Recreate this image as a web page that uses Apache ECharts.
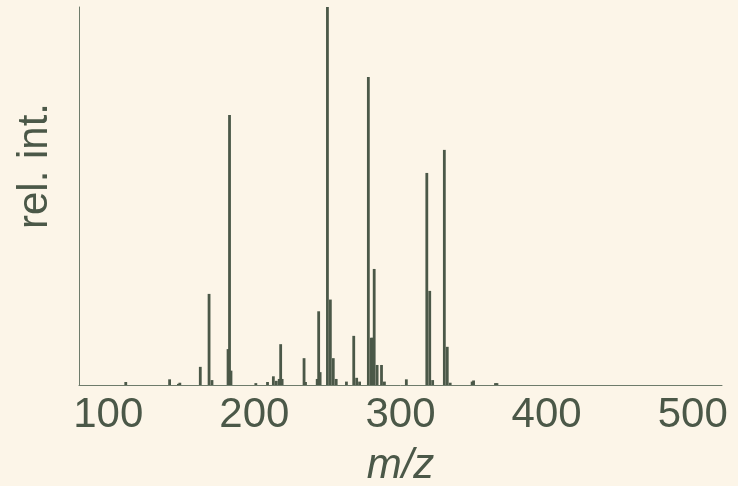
<!DOCTYPE html>
<html>
<head>
<meta charset="utf-8">
<script src="https://cdn.jsdelivr.net/npm/echarts@6.0.0/dist/echarts.min.js"></script>
<style>
  html, body { margin: 0; padding: 0; background: #fcf5e8; }
  #main { width: 738px; height: 486px; }
</style>
</head>
<body>
<div id="main"></div>
<script type="text/javascript">
// peak positions (m/z) and relative intensity (%)
var mz = [112, 142, 148, 149, 163, 169, 171, 182, 183, 184,
          201, 209, 213, 215, 217, 218, 219, 234, 235, 243,
          244, 245, 250, 252, 254, 256, 263, 268, 270, 272,
          278, 280, 281, 282, 284, 287, 289, 304, 318, 320,
          322, 330, 332, 334, 349, 350, 365, 366];
var relInt = [0.8, 1.5, 0.3, 0.6, 4.8, 24.1, 1.3, 9.5, 71.4, 3.8,
              0.5, 0.8, 2.3, 1.1, 1.6, 10.8, 1.6, 7.1, 0.8, 1.6,
              19.5, 3.4, 100, 22.6, 7.1, 1.6, 0.9, 13.0, 1.9, 0.9,
              81.5, 12.5, 12.5, 30.7, 5.3, 5.3, 0.9, 1.5, 56.1, 24.9,
              1.3, 62.2, 10.1, 0.6, 0.9, 1.2, 0.5, 0.5];
var xTicks = [100, 200, 300, 400, 500];

var ink = '#4b5848';
var peaks = [];
for (var i = 0; i < mz.length; i++) {
    peaks.push([mz[i], relInt[i]]);
}

var myChart = echarts.init(document.getElementById('main'));
myChart.setOption({
    backgroundColor: '#fcf5e8',
    animation: false,
    grid: {
        left: 79,
        right: 16,
        top: 7,
        bottom: 101,
        containLabel: false,
        outerBoundsMode: 'none'
    },
    xAxis: {
        type: 'value',
        min: 80,
        max: 520,
        name: 'm/z',
        nameLocation: 'middle',
        nameGap: 60,
        nameTextStyle: {
            color: ink,
            fontFamily: 'Liberation Sans',
            fontStyle: 'italic',
            fontSize: 42
        },
        axisLine: { show: true, onZero: false, lineStyle: { color: '#6e7b6b', width: 1 } },
        axisTick: { show: false },
        splitLine: { show: false },
        axisLabel: {
            customValues: xTicks,
            color: ink,
            fontFamily: 'Liberation Sans',
            fontSize: 42,
            margin: 9
        }
    },
    yAxis: {
        type: 'value',
        min: 0,
        max: 100,
        axisLine: { show: true, lineStyle: { color: '#6e7b6b', width: 1 } },
        axisTick: { show: false },
        axisLabel: { show: false },
        splitLine: { show: false }
    },
    graphic: [{
        type: 'text',
        x: 35,
        y: 166,
        rotation: Math.PI / 2,
        style: {
            text: 'rel. int.',
            fill: ink,
            font: '42px "Liberation Sans"',
            align: 'center',
            verticalAlign: 'middle'
        }
    }],
    series: [{
        type: 'bar',
        data: peaks,
        barWidth: 2.8,
        itemStyle: { color: ink }
    }]
});
</script>
</body>
</html>
